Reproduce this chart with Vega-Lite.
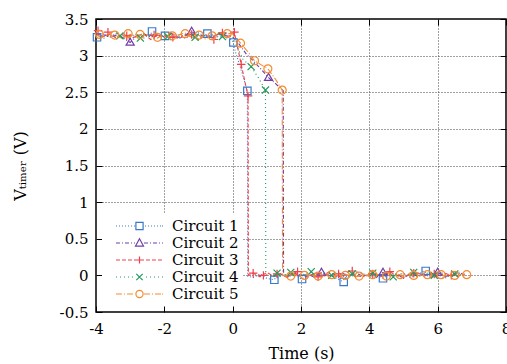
{
"$schema": "https://vega.github.io/schema/vega-lite/v6.json",
"width": 410, "height": 293,
"autosize": {"type": "none"},
"padding": {"left": 96, "top": 19, "right": 1, "bottom": 52},
"background": "white",
"config": {
 "font": "DejaVu Serif",
 "view": {"stroke": "black", "strokeWidth": 1.5},
 "axis": {"labelFont": "DejaVu Serif", "labelFontSize": 15, "labelColor": "black", "labelFlush": false, "labelOverlap": false, "titleFont": "DejaVu Serif", "titleFontSize": 16, "titleFontWeight": "normal", "titleColor": "black", "tickColor": "black", "tickSize": -6, "tickWidth": 1, "domain": false, "gridColor": "#444", "gridDash": [1, 2], "gridOpacity": 1, "gridWidth": 1},
 "legend": {"orient": "bottom-left", "offset": 6, "padding": 4, "fillColor": "white", "labelFont": "DejaVu Serif", "labelFontSize": 15, "labelColor": "black", "symbolSize": 256, "symbolStrokeWidth": 1.2, "symbolOffset": 24.5, "labelOffset": 23.5, "rowPadding": -0.7, "symbolFillColor": "transparent"}
},
"datasets": {
 "lines": [
  {"c":"Circuit 1","t":-4,"v":3.24},{"c":"Circuit 1","t":-3.8,"v":3.28},{"c":"Circuit 1","t":-3.6,"v":3.26},{"c":"Circuit 1","t":-3.4,"v":3.3},{"c":"Circuit 1","t":-3.2,"v":3.25},{"c":"Circuit 1","t":-3,"v":3.27},{"c":"Circuit 1","t":-2.8,"v":3.29},{"c":"Circuit 1","t":-2.6,"v":3.24},{"c":"Circuit 1","t":-2.4,"v":3.31},{"c":"Circuit 1","t":-2.2,"v":3.26},{"c":"Circuit 1","t":-2,"v":3.28},{"c":"Circuit 1","t":-1.8,"v":3.25},{"c":"Circuit 1","t":-1.6,"v":3.29},{"c":"Circuit 1","t":-1.4,"v":3.24},{"c":"Circuit 1","t":-1.2,"v":3.27},{"c":"Circuit 1","t":-1,"v":3.31},{"c":"Circuit 1","t":-0.8,"v":3.26},{"c":"Circuit 1","t":-0.6,"v":3.29},{"c":"Circuit 1","t":-0.4,"v":3.25},{"c":"Circuit 1","t":-0.2,"v":3.28},{"c":"Circuit 1","t":0,"v":3.2},{"c":"Circuit 1","t":0.1,"v":3.02},{"c":"Circuit 1","t":0.2,"v":2.88},{"c":"Circuit 1","t":0.3,"v":2.72},{"c":"Circuit 1","t":0.43,"v":2.52},{"c":"Circuit 1","t":0.44,"v":-0.01},{"c":"Circuit 1","t":0.6,"v":-0.03},{"c":"Circuit 1","t":0.8,"v":0.02},{"c":"Circuit 1","t":1,"v":-0.04},{"c":"Circuit 1","t":1.2,"v":-0.06},{"c":"Circuit 1","t":1.4,"v":0.01},{"c":"Circuit 1","t":1.6,"v":-0.03},{"c":"Circuit 1","t":1.8,"v":0.02},{"c":"Circuit 1","t":2,"v":-0.05},{"c":"Circuit 1","t":2.2,"v":-0.01},{"c":"Circuit 1","t":2.4,"v":0.03},{"c":"Circuit 1","t":2.6,"v":-0.02},{"c":"Circuit 1","t":2.8,"v":0.01},{"c":"Circuit 1","t":3,"v":-0.03},{"c":"Circuit 1","t":3.2,"v":-0.08},{"c":"Circuit 1","t":3.4,"v":0.02},{"c":"Circuit 1","t":3.6,"v":-0.01},{"c":"Circuit 1","t":3.8,"v":0.03},{"c":"Circuit 1","t":4,"v":-0.02},{"c":"Circuit 1","t":4.2,"v":0.01},{"c":"Circuit 1","t":4.4,"v":-0.04},{"c":"Circuit 1","t":4.6,"v":0.02},{"c":"Circuit 1","t":4.8,"v":-0.01},{"c":"Circuit 1","t":5,"v":0.03},{"c":"Circuit 1","t":5.2,"v":-0.03},{"c":"Circuit 1","t":5.4,"v":0.01},{"c":"Circuit 1","t":5.6,"v":0.06},{"c":"Circuit 1","t":5.8,"v":-0.02},{"c":"Circuit 1","t":6,"v":0.02},{"c":"Circuit 1","t":6.2,"v":-0.04},{"c":"Circuit 1","t":6.4,"v":0.01},{"c":"Circuit 1","t":6.6,"v":0.03},{"c":"Circuit 1","t":6.8,"v":-0.01},
  {"c":"Circuit 2","t":-4,"v":3.27},{"c":"Circuit 2","t":-3.8,"v":3.3},{"c":"Circuit 2","t":-3.6,"v":3.25},{"c":"Circuit 2","t":-3.4,"v":3.28},{"c":"Circuit 2","t":-3.2,"v":3.24},{"c":"Circuit 2","t":-3,"v":3.18},{"c":"Circuit 2","t":-2.8,"v":3.27},{"c":"Circuit 2","t":-2.6,"v":3.3},{"c":"Circuit 2","t":-2.4,"v":3.25},{"c":"Circuit 2","t":-2.2,"v":3.28},{"c":"Circuit 2","t":-2,"v":3.26},{"c":"Circuit 2","t":-1.8,"v":3.31},{"c":"Circuit 2","t":-1.6,"v":3.25},{"c":"Circuit 2","t":-1.4,"v":3.28},{"c":"Circuit 2","t":-1.2,"v":3.33},{"c":"Circuit 2","t":-1,"v":3.26},{"c":"Circuit 2","t":-0.8,"v":3.29},{"c":"Circuit 2","t":-0.6,"v":3.24},{"c":"Circuit 2","t":-0.4,"v":3.3},{"c":"Circuit 2","t":-0.2,"v":3.27},{"c":"Circuit 2","t":0,"v":3.26},{"c":"Circuit 2","t":0.2,"v":3.15},{"c":"Circuit 2","t":0.4,"v":3.02},{"c":"Circuit 2","t":0.6,"v":2.93},{"c":"Circuit 2","t":0.8,"v":2.83},{"c":"Circuit 2","t":1.05,"v":2.7},{"c":"Circuit 2","t":1.25,"v":2.62},{"c":"Circuit 2","t":1.48,"v":2.52},{"c":"Circuit 2","t":1.49,"v":0.01},{"c":"Circuit 2","t":1.6,"v":-0.02},{"c":"Circuit 2","t":1.8,"v":0.03},{"c":"Circuit 2","t":2,"v":-0.01},{"c":"Circuit 2","t":2.2,"v":0.02},{"c":"Circuit 2","t":2.4,"v":-0.03},{"c":"Circuit 2","t":2.6,"v":0.04},{"c":"Circuit 2","t":2.8,"v":0},{"c":"Circuit 2","t":3,"v":-0.02},{"c":"Circuit 2","t":3.2,"v":0.03},{"c":"Circuit 2","t":3.4,"v":-0.01},{"c":"Circuit 2","t":3.6,"v":0.05},{"c":"Circuit 2","t":3.8,"v":-0.02},{"c":"Circuit 2","t":4,"v":0.01},{"c":"Circuit 2","t":4.2,"v":-0.03},{"c":"Circuit 2","t":4.4,"v":0.04},{"c":"Circuit 2","t":4.6,"v":-0.01},{"c":"Circuit 2","t":4.8,"v":0.02},{"c":"Circuit 2","t":5,"v":-0.04},{"c":"Circuit 2","t":5.2,"v":0.03},{"c":"Circuit 2","t":5.4,"v":-0.01},{"c":"Circuit 2","t":5.6,"v":0.02},{"c":"Circuit 2","t":5.8,"v":-0.03},{"c":"Circuit 2","t":6,"v":0.04},{"c":"Circuit 2","t":6.2,"v":-0.02},{"c":"Circuit 2","t":6.4,"v":0.01},{"c":"Circuit 2","t":6.6,"v":0.05},{"c":"Circuit 2","t":6.8,"v":0},
  {"c":"Circuit 3","t":-4,"v":3.31},{"c":"Circuit 3","t":-3.8,"v":3.26},{"c":"Circuit 3","t":-3.6,"v":3.29},{"c":"Circuit 3","t":-3.4,"v":3.24},{"c":"Circuit 3","t":-3.2,"v":3.3},{"c":"Circuit 3","t":-3,"v":3.23},{"c":"Circuit 3","t":-2.8,"v":3.27},{"c":"Circuit 3","t":-2.6,"v":3.3},{"c":"Circuit 3","t":-2.4,"v":3.22},{"c":"Circuit 3","t":-2.2,"v":3.28},{"c":"Circuit 3","t":-2,"v":3.25},{"c":"Circuit 3","t":-1.8,"v":3.3},{"c":"Circuit 3","t":-1.6,"v":3.23},{"c":"Circuit 3","t":-1.4,"v":3.27},{"c":"Circuit 3","t":-1.2,"v":3.29},{"c":"Circuit 3","t":-1,"v":3.22},{"c":"Circuit 3","t":-0.8,"v":3.28},{"c":"Circuit 3","t":-0.6,"v":3.24},{"c":"Circuit 3","t":-0.4,"v":3.3},{"c":"Circuit 3","t":-0.2,"v":3.26},{"c":"Circuit 3","t":0,"v":3.28},{"c":"Circuit 3","t":0.05,"v":3.32},{"c":"Circuit 3","t":0.15,"v":3.1},{"c":"Circuit 3","t":0.25,"v":2.88},{"c":"Circuit 3","t":0.35,"v":2.66},{"c":"Circuit 3","t":0.45,"v":2.45},{"c":"Circuit 3","t":0.46,"v":0},{"c":"Circuit 3","t":0.6,"v":0.03},{"c":"Circuit 3","t":0.8,"v":-0.02},{"c":"Circuit 3","t":1,"v":0.04},{"c":"Circuit 3","t":1.2,"v":-0.01},{"c":"Circuit 3","t":1.4,"v":0.02},{"c":"Circuit 3","t":1.6,"v":-0.03},{"c":"Circuit 3","t":1.8,"v":0.05},{"c":"Circuit 3","t":2,"v":0},{"c":"Circuit 3","t":2.2,"v":-0.02},{"c":"Circuit 3","t":2.4,"v":0.03},{"c":"Circuit 3","t":2.6,"v":-0.01},{"c":"Circuit 3","t":2.8,"v":0.04},{"c":"Circuit 3","t":3,"v":0.01},{"c":"Circuit 3","t":3.2,"v":-0.03},{"c":"Circuit 3","t":3.4,"v":0.06},{"c":"Circuit 3","t":3.6,"v":0},{"c":"Circuit 3","t":3.8,"v":-0.02},{"c":"Circuit 3","t":4,"v":0.03},{"c":"Circuit 3","t":4.2,"v":0.01},{"c":"Circuit 3","t":4.4,"v":-0.02},{"c":"Circuit 3","t":4.6,"v":0.05},{"c":"Circuit 3","t":4.8,"v":0},{"c":"Circuit 3","t":5,"v":-0.03},{"c":"Circuit 3","t":5.2,"v":0.02},{"c":"Circuit 3","t":5.4,"v":0.04},{"c":"Circuit 3","t":5.6,"v":-0.01},{"c":"Circuit 3","t":5.8,"v":0.02},{"c":"Circuit 3","t":6,"v":-0.02},{"c":"Circuit 3","t":6.2,"v":0.03},{"c":"Circuit 3","t":6.4,"v":0},{"c":"Circuit 3","t":6.6,"v":-0.01},{"c":"Circuit 3","t":6.8,"v":0.02},
  {"c":"Circuit 4","t":-4,"v":3.26},{"c":"Circuit 4","t":-3.8,"v":3.23},{"c":"Circuit 4","t":-3.6,"v":3.28},{"c":"Circuit 4","t":-3.4,"v":3.25},{"c":"Circuit 4","t":-3.2,"v":3.29},{"c":"Circuit 4","t":-3,"v":3.26},{"c":"Circuit 4","t":-2.8,"v":3.24},{"c":"Circuit 4","t":-2.6,"v":3.28},{"c":"Circuit 4","t":-2.4,"v":3.26},{"c":"Circuit 4","t":-2.2,"v":3.3},{"c":"Circuit 4","t":-2,"v":3.25},{"c":"Circuit 4","t":-1.8,"v":3.27},{"c":"Circuit 4","t":-1.6,"v":3.24},{"c":"Circuit 4","t":-1.4,"v":3.29},{"c":"Circuit 4","t":-1.2,"v":3.26},{"c":"Circuit 4","t":-1,"v":3.23},{"c":"Circuit 4","t":-0.8,"v":3.28},{"c":"Circuit 4","t":-0.6,"v":3.25},{"c":"Circuit 4","t":-0.4,"v":3.29},{"c":"Circuit 4","t":-0.2,"v":3.24},{"c":"Circuit 4","t":0,"v":3.27},{"c":"Circuit 4","t":0.15,"v":3.1},{"c":"Circuit 4","t":0.3,"v":2.95},{"c":"Circuit 4","t":0.54,"v":2.85},{"c":"Circuit 4","t":0.75,"v":2.7},{"c":"Circuit 4","t":0.96,"v":2.53},{"c":"Circuit 4","t":0.97,"v":0.01},{"c":"Circuit 4","t":1.1,"v":-0.01},{"c":"Circuit 4","t":1.3,"v":0.03},{"c":"Circuit 4","t":1.5,"v":0},{"c":"Circuit 4","t":1.7,"v":0.04},{"c":"Circuit 4","t":1.9,"v":-0.02},{"c":"Circuit 4","t":2.1,"v":0.02},{"c":"Circuit 4","t":2.3,"v":0.05},{"c":"Circuit 4","t":2.5,"v":-0.01},{"c":"Circuit 4","t":2.7,"v":0.03},{"c":"Circuit 4","t":2.9,"v":0},{"c":"Circuit 4","t":3.1,"v":0.04},{"c":"Circuit 4","t":3.3,"v":-0.02},{"c":"Circuit 4","t":3.5,"v":0.02},{"c":"Circuit 4","t":3.7,"v":0.05},{"c":"Circuit 4","t":3.9,"v":-0.01},{"c":"Circuit 4","t":4.1,"v":0.03},{"c":"Circuit 4","t":4.3,"v":0},{"c":"Circuit 4","t":4.5,"v":0.04},{"c":"Circuit 4","t":4.7,"v":-0.02},{"c":"Circuit 4","t":4.9,"v":0.02},{"c":"Circuit 4","t":5.1,"v":0.01},{"c":"Circuit 4","t":5.3,"v":0.04},{"c":"Circuit 4","t":5.5,"v":-0.01},{"c":"Circuit 4","t":5.7,"v":0.03},{"c":"Circuit 4","t":5.9,"v":0},{"c":"Circuit 4","t":6.1,"v":0.04},{"c":"Circuit 4","t":6.3,"v":-0.01},{"c":"Circuit 4","t":6.5,"v":0.02},{"c":"Circuit 4","t":6.7,"v":0.01},
  {"c":"Circuit 5","t":-4,"v":3.28},{"c":"Circuit 5","t":-3.8,"v":3.25},{"c":"Circuit 5","t":-3.6,"v":3.3},{"c":"Circuit 5","t":-3.4,"v":3.27},{"c":"Circuit 5","t":-3.2,"v":3.23},{"c":"Circuit 5","t":-3,"v":3.29},{"c":"Circuit 5","t":-2.8,"v":3.26},{"c":"Circuit 5","t":-2.6,"v":3.3},{"c":"Circuit 5","t":-2.4,"v":3.27},{"c":"Circuit 5","t":-2.2,"v":3.24},{"c":"Circuit 5","t":-2,"v":3.29},{"c":"Circuit 5","t":-1.8,"v":3.26},{"c":"Circuit 5","t":-1.6,"v":3.28},{"c":"Circuit 5","t":-1.4,"v":3.31},{"c":"Circuit 5","t":-1.2,"v":3.25},{"c":"Circuit 5","t":-1,"v":3.28},{"c":"Circuit 5","t":-0.8,"v":3.23},{"c":"Circuit 5","t":-0.6,"v":3.27},{"c":"Circuit 5","t":-0.4,"v":3.31},{"c":"Circuit 5","t":-0.2,"v":3.3},{"c":"Circuit 5","t":0,"v":3.3},{"c":"Circuit 5","t":0.23,"v":3.17},{"c":"Circuit 5","t":0.45,"v":3.05},{"c":"Circuit 5","t":0.64,"v":2.93},{"c":"Circuit 5","t":0.85,"v":2.87},{"c":"Circuit 5","t":1.03,"v":2.82},{"c":"Circuit 5","t":1.25,"v":2.68},{"c":"Circuit 5","t":1.45,"v":2.53},{"c":"Circuit 5","t":1.46,"v":0},{"c":"Circuit 5","t":1.6,"v":-0.02},{"c":"Circuit 5","t":1.8,"v":0.01},{"c":"Circuit 5","t":2,"v":-0.01},{"c":"Circuit 5","t":2.2,"v":0.02},{"c":"Circuit 5","t":2.4,"v":0},{"c":"Circuit 5","t":2.6,"v":-0.02},{"c":"Circuit 5","t":2.8,"v":0.01},{"c":"Circuit 5","t":3,"v":-0.01},{"c":"Circuit 5","t":3.2,"v":0.02},{"c":"Circuit 5","t":3.4,"v":0},{"c":"Circuit 5","t":3.6,"v":-0.02},{"c":"Circuit 5","t":3.8,"v":0.01},{"c":"Circuit 5","t":4,"v":-0.01},{"c":"Circuit 5","t":4.2,"v":0.02},{"c":"Circuit 5","t":4.4,"v":-0.01},{"c":"Circuit 5","t":4.6,"v":0},{"c":"Circuit 5","t":4.8,"v":0.02},{"c":"Circuit 5","t":5,"v":-0.01},{"c":"Circuit 5","t":5.2,"v":0.01},{"c":"Circuit 5","t":5.4,"v":-0.02},{"c":"Circuit 5","t":5.6,"v":0.01},{"c":"Circuit 5","t":5.8,"v":0},{"c":"Circuit 5","t":6,"v":0.02},{"c":"Circuit 5","t":6.2,"v":-0.01},{"c":"Circuit 5","t":6.4,"v":0.01},{"c":"Circuit 5","t":6.6,"v":0},{"c":"Circuit 5","t":6.8,"v":0.01}
 ],
 "marks": [
  {"c":"Circuit 1","t":-3.97,"v":3.25},{"c":"Circuit 1","t":-2.36,"v":3.33},{"c":"Circuit 1","t":-1.98,"v":3.27},{"c":"Circuit 1","t":-0.74,"v":3.3},{"c":"Circuit 1","t":0.02,"v":3.18},{"c":"Circuit 1","t":0.43,"v":2.52},{"c":"Circuit 1","t":1.22,"v":-0.06},{"c":"Circuit 1","t":2.03,"v":-0.05},{"c":"Circuit 1","t":3.25,"v":-0.09},{"c":"Circuit 1","t":4.4,"v":-0.04},{"c":"Circuit 1","t":5.65,"v":0.06},
  {"c":"Circuit 2","t":-3,"v":3.18},{"c":"Circuit 2","t":-1.2,"v":3.33},{"c":"Circuit 2","t":1.05,"v":2.7},{"c":"Circuit 2","t":2.6,"v":0.04},{"c":"Circuit 2","t":4.4,"v":0.04},{"c":"Circuit 2","t":6,"v":0.04},
  {"c":"Circuit 3","t":-3.94,"v":3.34},{"c":"Circuit 3","t":-3.65,"v":3.32},{"c":"Circuit 3","t":-3.1,"v":3.27},{"c":"Circuit 3","t":-2.3,"v":3.28},{"c":"Circuit 3","t":-1.75,"v":3.25},{"c":"Circuit 3","t":-1.2,"v":3.29},{"c":"Circuit 3","t":-0.55,"v":3.22},{"c":"Circuit 3","t":-0.3,"v":3.31},{"c":"Circuit 3","t":0.05,"v":3.32},{"c":"Circuit 3","t":0.25,"v":2.88},{"c":"Circuit 3","t":0.45,"v":2.45},{"c":"Circuit 3","t":0.6,"v":0.03},{"c":"Circuit 3","t":0.9,"v":0},{"c":"Circuit 3","t":1.3,"v":0.02},{"c":"Circuit 3","t":1.9,"v":0.05},{"c":"Circuit 3","t":2.5,"v":-0.02},{"c":"Circuit 3","t":3.1,"v":0.02},{"c":"Circuit 3","t":3.5,"v":0.06},{"c":"Circuit 3","t":4.1,"v":0.02},{"c":"Circuit 3","t":4.6,"v":0.05},{"c":"Circuit 3","t":5.3,"v":0.03},{"c":"Circuit 3","t":5.9,"v":0.02},{"c":"Circuit 3","t":6.4,"v":0},
  {"c":"Circuit 4","t":-3.3,"v":3.27},{"c":"Circuit 4","t":-2.7,"v":3.24},{"c":"Circuit 4","t":-1.9,"v":3.26},{"c":"Circuit 4","t":-1.1,"v":3.25},{"c":"Circuit 4","t":-0.3,"v":3.26},{"c":"Circuit 4","t":0.54,"v":2.85},{"c":"Circuit 4","t":0.96,"v":2.53},{"c":"Circuit 4","t":1.3,"v":0.03},{"c":"Circuit 4","t":1.7,"v":0.04},{"c":"Circuit 4","t":2.3,"v":0.05},{"c":"Circuit 4","t":2.9,"v":0},{"c":"Circuit 4","t":3.5,"v":0.02},{"c":"Circuit 4","t":4.1,"v":0.03},{"c":"Circuit 4","t":4.7,"v":-0.02},{"c":"Circuit 4","t":5.3,"v":0.04},{"c":"Circuit 4","t":5.9,"v":0},{"c":"Circuit 4","t":6.5,"v":0.02},
  {"c":"Circuit 5","t":-3.9,"v":3.29},{"c":"Circuit 5","t":-3.45,"v":3.28},{"c":"Circuit 5","t":-3.06,"v":3.3},{"c":"Circuit 5","t":-2.71,"v":3.29},{"c":"Circuit 5","t":-2.2,"v":3.25},{"c":"Circuit 5","t":-1.77,"v":3.27},{"c":"Circuit 5","t":-1.39,"v":3.3},{"c":"Circuit 5","t":-0.98,"v":3.28},{"c":"Circuit 5","t":-0.6,"v":3.27},{"c":"Circuit 5","t":-0.16,"v":3.3},{"c":"Circuit 5","t":0.23,"v":3.17},{"c":"Circuit 5","t":0.64,"v":2.93},{"c":"Circuit 5","t":1.03,"v":2.82},{"c":"Circuit 5","t":1.45,"v":2.53},{"c":"Circuit 5","t":1.7,"v":-0.01},{"c":"Circuit 5","t":2.1,"v":0},{"c":"Circuit 5","t":2.5,"v":-0.01},{"c":"Circuit 5","t":2.9,"v":0.01},{"c":"Circuit 5","t":3.3,"v":0},{"c":"Circuit 5","t":3.7,"v":-0.01},{"c":"Circuit 5","t":4.1,"v":0.01},{"c":"Circuit 5","t":4.5,"v":-0.01},{"c":"Circuit 5","t":4.9,"v":0.01},{"c":"Circuit 5","t":5.3,"v":0},{"c":"Circuit 5","t":5.7,"v":0.01},{"c":"Circuit 5","t":6.1,"v":0.01},{"c":"Circuit 5","t":6.5,"v":0},{"c":"Circuit 5","t":6.85,"v":0.01}
 ]
},
"layer": [
 {
  "data": {"name": "lines"},
  "mark": {"type": "line", "strokeWidth": 1.1},
  "encoding": {
   "x": {"field": "t", "type": "quantitative", "scale": {"domain": [-4, 8], "nice": false},
     "axis": {"orient": "bottom", "values": [-4, -2, 0, 2, 4, 6, 8], "title": "Time (s)", "grid": true, "labelPadding": 15, "titlePadding": 9, "labelExpr": "replace(format(datum.value, '~g'), '−', '-')"}},
   "y": {"field": "v", "type": "quantitative", "scale": {"domain": [-0.5, 3.5], "nice": false, "zero": false},
     "axis": {"orient": "left", "values": [-0.5, 0, 0.5, 1, 1.5, 2, 2.5, 3, 3.5], "title": "Vₜᵢₘₑᵣ (V)", "grid": true, "labelPadding": 14, "titlePadding": 31, "labelExpr": "replace(format(datum.value, '~g'), '−', '-')"}},
   "color": {"field": "c", "type": "nominal", "scale": {"domain": ["Circuit 1", "Circuit 2", "Circuit 3", "Circuit 4", "Circuit 5"], "range": ["#3b78c8", "#6f3fa8", "#f0404a", "#1f9a5a", "#f58a30"]}},
   "strokeDash": {"field": "c", "type": "nominal", "scale": {"domain": ["Circuit 5", "Circuit 4", "Circuit 3", "Circuit 2", "Circuit 1"], "range": [[6, 2, 1, 2], [1, 3], [4, 2], [4, 2, 1, 2], [1, 2]]}, "legend": null}
  }
 },
 {
  "data": {"name": "marks"},
  "transform": [{"filter": "datum.c == 'Circuit 1'"}],
  "mark": {"type": "point", "filled": false, "strokeWidth": 1.2, "size": 55, "shape": "M-1,-1H1V1H-1Z", "opacity": 1},
  "encoding": {"x": {"field": "t", "type": "quantitative", "axis": null}, "y": {"field": "v", "type": "quantitative", "axis": null}, "color": {"field": "c", "type": "nominal"}}
 },
 {
  "data": {"name": "marks"},
  "transform": [{"filter": "datum.c == 'Circuit 2'"}],
  "mark": {"type": "point", "filled": false, "strokeWidth": 1.2, "size": 55, "shape": "M0,-1.15L1.1,0.75H-1.1Z", "opacity": 1},
  "encoding": {"x": {"field": "t", "type": "quantitative", "axis": null}, "y": {"field": "v", "type": "quantitative", "axis": null}, "color": {"field": "c", "type": "nominal"}}
 },
 {
  "data": {"name": "marks"},
  "transform": [{"filter": "datum.c == 'Circuit 3'"}],
  "mark": {"type": "point", "filled": false, "strokeWidth": 1.2, "size": 50, "shape": "M-1.2,0H1.2M0,-1.2V1.2", "opacity": 1},
  "encoding": {"x": {"field": "t", "type": "quantitative", "axis": null}, "y": {"field": "v", "type": "quantitative", "axis": null}, "color": {"field": "c", "type": "nominal"}}
 },
 {
  "data": {"name": "marks"},
  "transform": [{"filter": "datum.c == 'Circuit 4'"}],
  "mark": {"type": "point", "filled": false, "strokeWidth": 1.2, "size": 50, "shape": "M-1,-1L1,1M-1,1L1,-1", "opacity": 1},
  "encoding": {"x": {"field": "t", "type": "quantitative", "axis": null}, "y": {"field": "v", "type": "quantitative", "axis": null}, "color": {"field": "c", "type": "nominal"}}
 },
 {
  "data": {"name": "marks"},
  "transform": [{"filter": "datum.c == 'Circuit 5'"}],
  "mark": {"type": "point", "filled": false, "strokeWidth": 1.2, "size": 64, "shape": "circle", "opacity": 1},
  "encoding": {"x": {"field": "t", "type": "quantitative", "axis": null}, "y": {"field": "v", "type": "quantitative", "axis": null}, "color": {"field": "c", "type": "nominal"}}
 },
 {
  "data": {"name": "marks"},
  "transform": [{"filter": "datum.t > 100"}],
  "mark": {"type": "point", "filled": false, "strokeWidth": 1.2},
  "encoding": {
   "x": {"field": "t", "type": "quantitative", "axis": {"orient": "top", "values": [-4, -2, 0, 2, 4, 6, 8], "labels": false, "title": null, "grid": false}},
   "y": {"field": "v", "type": "quantitative", "axis": {"orient": "right", "values": [-0.5, 0, 0.5, 1, 1.5, 2, 2.5, 3, 3.5], "labels": false, "title": null, "grid": false}},
   "color": {"field": "c", "type": "nominal", "legend": {"title": null}},
   "shape": {"field": "c", "type": "nominal", "scale": {"domain": ["Circuit 1", "Circuit 2", "Circuit 3", "Circuit 4", "Circuit 5"], "range": [
     "M-2.94,0h0.125M-2.56,0h0.125M-2.19,0h0.125M-1.81,0h0.125M-1.44,0h0.125M-1.06,0h0.125M-0.69,0h0.125M0.69,0h0.125M1.06,0h0.125M1.44,0h0.125M1.81,0h0.125M2.19,0h0.125M2.56,0h0.125M2.81,0h0.125M-0.45,-0.45h0.9v0.9h-0.9z",
     "M-2.94,0h0.5M-2.19,0h0.125M-1.81,0h0.5M-1.06,0h0.125M-0.69,0h0.125M0.56,0h0.5M1.31,0h0.125M1.69,0h0.5M2.44,0h0.125M2.81,0h0.125M0,-0.53L0.5,0.38L-0.5,0.38Z",
     "M-2.94,0h0.5M-2.19,0h0.5M-1.44,0h0.5M-0.69,0h0.5M0.06,0h0.5M0.81,0h0.5M1.56,0h0.5M2.31,0h0.5M-0.45,0h0.9M0,-0.45v0.9",
     "M-2.94,0h0.125M-2.44,0h0.125M-1.94,0h0.125M-1.44,0h0.125M-0.94,0h0.125M0.81,0h0.125M1.31,0h0.125M1.81,0h0.125M2.31,0h0.125M2.81,0h0.125M-0.4,-0.4L0.4,0.4M-0.4,0.4L0.4,-0.4",
     "M-2.94,0h0.75M-1.94,0h0.125M-1.56,0h0.75M0.56,0h0.75M1.56,0h0.125M1.94,0h0.75M2.81,0h0.125M0.45,0A0.45,0.45,0,1,1,-0.45,0A0.45,0.45,0,1,1,0.45,0Z"
   ]}, "legend": {"title": null}}
  }
 }
],
"resolve": {"axis": {"x": "independent", "y": "independent"}}
}
